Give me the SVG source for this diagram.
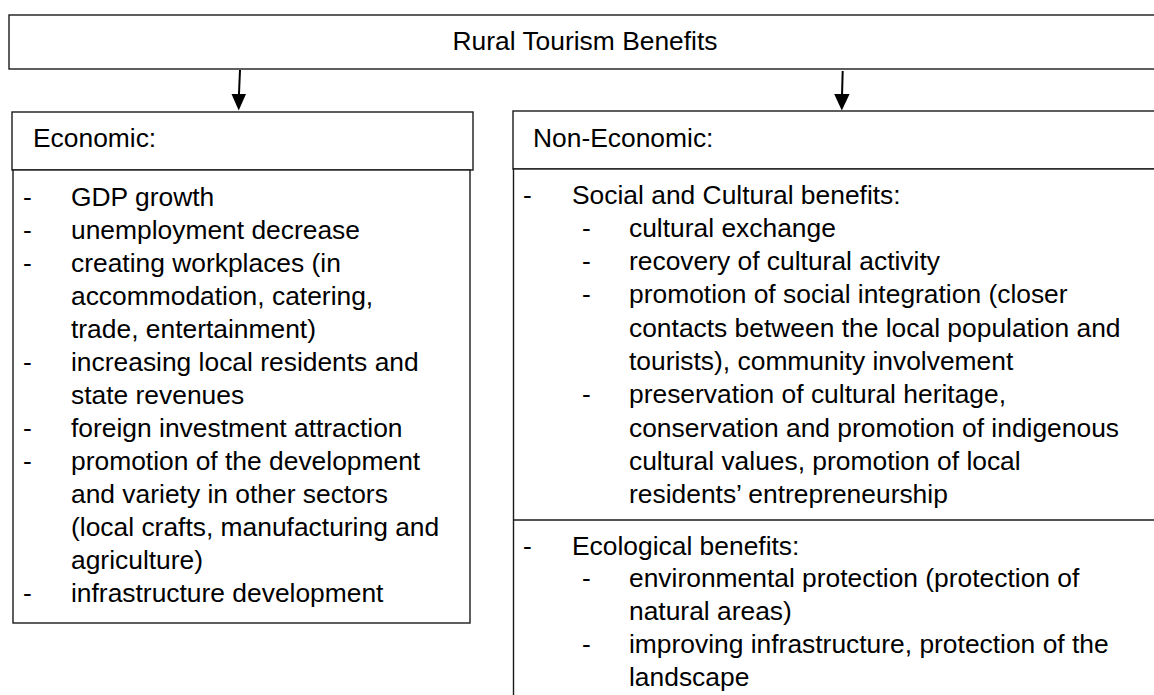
<svg xmlns="http://www.w3.org/2000/svg" width="1154" height="695" viewBox="0 0 1154 695">
  <style>
    .box { fill: #ffffff; stroke: #1a1a1a; stroke-width: 1.4; }
    .sep { stroke: #1a1a1a; stroke-width: 1.4; }
    .t { font-family: "Liberation Sans", Arial, sans-serif; font-size: 26.4px; fill: #000000; }
    .link { stroke: #000000; stroke-width: 2; fill: none; }
    .head { fill: #000000; stroke: none; }
  </style>
  <rect width="1154" height="695" fill="#ffffff"/>

  <!-- title bar -->
  <g id="root">
    <rect class="box" x="9" y="15" width="1160" height="54"/>
    <text class="t" x="585" y="50" text-anchor="middle">Rural Tourism Benefits</text>
  </g>

  <!-- connectors -->
  <g id="connectors">
    <line class="link" x1="240" y1="70" x2="238.9" y2="96"/>
    <polygon class="head" points="231.5,94 246,94 238.7,110.5"/>
    <line class="link" x1="842.7" y1="71" x2="842" y2="96"/>
    <polygon class="head" points="834.2,94 849.6,94 841.8,110.5"/>
  </g>

  <!-- economic branch -->
  <g id="economic">
    <rect class="box" x="12" y="112" width="461" height="58"/>
    <text class="t" x="33" y="147">Economic:</text>
    <rect class="box" x="13" y="170" width="457" height="453"/>
    <g class="t">
      <text x="23" y="206">-</text><text x="71" y="206">GDP growth</text>
      <text x="23" y="239">-</text><text x="71" y="239">unemployment decrease</text>
      <text x="23" y="272">-</text><text x="71" y="272">creating workplaces (in</text>
      <text x="71" y="305">accommodation, catering,</text>
      <text x="71" y="338">trade, entertainment)</text>
      <text x="23" y="371">-</text><text x="71" y="371">increasing local residents and</text>
      <text x="71" y="404">state revenues</text>
      <text x="23" y="437">-</text><text x="71" y="437">foreign investment attraction</text>
      <text x="23" y="470">-</text><text x="71" y="470">promotion of the development</text>
      <text x="71" y="503">and variety in other sectors</text>
      <text x="71" y="536">(local crafts, manufacturing and</text>
      <text x="71" y="569">agriculture)</text>
      <text x="23" y="602">-</text><text x="71" y="602">infrastructure development</text>
    </g>
  </g>

  <!-- non-economic branch -->
  <g id="non-economic">
    <rect class="box" x="513" y="111" width="660" height="58"/>
    <text class="t" x="533" y="147">Non-Economic:</text>
    <rect class="box" x="513.5" y="169" width="660" height="540"/>
    <line class="sep" x1="513.5" y1="520" x2="1160" y2="520"/>
    <g class="t">
      <text x="523" y="204">-</text><text x="572" y="204">Social and Cultural benefits:</text>
      <text x="582" y="237">-</text><text x="629" y="237">cultural exchange</text>
      <text x="582" y="270">-</text><text x="629" y="270">recovery of cultural activity</text>
      <text x="582" y="303">-</text><text x="629" y="303">promotion of social integration (closer</text>
      <text x="629" y="337">contacts between the local population and</text>
      <text x="629" y="370">tourists), community involvement</text>
      <text x="582" y="403">-</text><text x="629" y="403">preservation of cultural heritage,</text>
      <text x="629" y="437">conservation and promotion of indigenous</text>
      <text x="629" y="470">cultural values, promotion of local</text>
      <text x="629" y="503">residents’ entrepreneurship</text>
      <text x="523" y="555">-</text><text x="572" y="555">Ecological benefits:</text>
      <text x="582" y="587">-</text><text x="629" y="587">environmental protection (protection of</text>
      <text x="629" y="620">natural areas)</text>
      <text x="582" y="653">-</text><text x="629" y="653">improving infrastructure, protection of the</text>
      <text x="629" y="686">landscape</text>
    </g>
  </g>
</svg>
